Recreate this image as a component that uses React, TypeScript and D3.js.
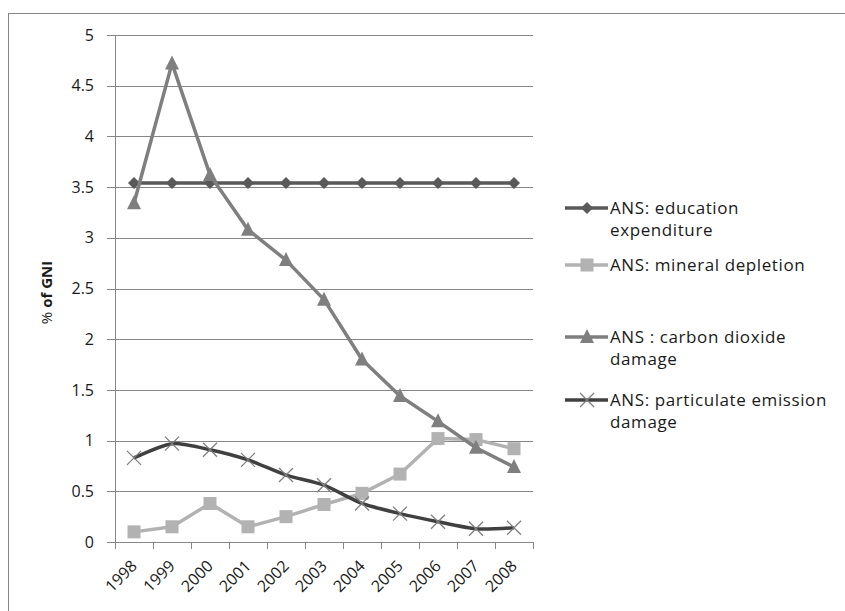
import * as d3 from "d3";

const years = ["1998", "1999", "2000", "2001", "2002", "2003", "2004", "2005", "2006", "2007", "2008"];
const education = [3.54, 3.54, 3.54, 3.54, 3.54, 3.54, 3.54, 3.54, 3.54, 3.54, 3.54];
const mineral = [0.1, 0.15, 0.38, 0.15, 0.25, 0.37, 0.48, 0.67, 1.02, 1.01, 0.92];
const carbon = [3.34, 4.72, 3.62, 3.08, 2.78, 2.39, 1.8, 1.44, 1.19, 0.93, 0.74];
const particulate = [0.83, 0.97, 0.91, 0.81, 0.66, 0.56, 0.38, 0.28, 0.2, 0.13, 0.14];
const yTicks = [0, 0.5, 1, 1.5, 2, 2.5, 3, 3.5, 4, 4.5, 5];

const FONT = "'Open Sans', 'Liberation Sans', sans-serif";

const margin = { left: 115, right: 533, top: 35, bottom: 542 };

type Series = {
  name: string[];
  values: number[];
  color: string;
  marker: "diamond" | "square" | "triangle" | "x";
  smooth?: boolean;
  legendY: number;
};

const series: Series[] = [
  { name: ["ANS: education", "expenditure"], values: education, color: "#595959", marker: "diamond", legendY: 208 },
  { name: ["ANS: mineral depletion"], values: mineral, color: "#b2b2b2", marker: "square", legendY: 265 },
  { name: ["ANS : carbon dioxide", "damage"], values: carbon, color: "#7f7f7f", marker: "triangle", legendY: 337 },
  { name: ["ANS: particulate emission", "damage"], values: particulate, color: "#404040", marker: "x", smooth: true, legendY: 400 },
];

function Marker({ type, x, y, color }: { type: string; x: number; y: number; color: string }) {
  if (type === "diamond") {
    const s = 6;
    return <path d={`M${x},${y - s}L${x + s},${y}L${x},${y + s}L${x - s},${y}Z`} fill={color} />;
  }
  if (type === "square") {
    const s = 6.5;
    return <rect x={x - s} y={y - s} width={s * 2} height={s * 2} fill={color} />;
  }
  if (type === "triangle") {
    const s = 7;
    return <path d={`M${x},${y - s - 1}L${x + s},${y + s - 1}L${x - s},${y + s - 1}Z`} fill={color} />;
  }
  const s = 7;
  return (
    <path
      d={`M${x - s},${y - s}L${x + s},${y + s}M${x - s},${y + s}L${x + s},${y - s}`}
      stroke="#7f7f7f"
      strokeWidth={1.3}
      fill="none"
    />
  );
}

export default function App() {
  const x = d3.scaleBand().domain(years).range([margin.left, margin.right]);
  const y = d3.scaleLinear().domain([0, 5]).range([margin.bottom, margin.top]);
  const cx = (d: string) => (x(d) as number) + x.bandwidth() / 2;

  const boundaries = years.map((d) => x(d) as number).concat([margin.right]);

  return (
    <svg
      width={845}
      height={611}
      style={{ position: "absolute", left: 0, top: 0, background: "#fff" }}
      fontFamily={FONT}
    >
      <rect x={8.5} y={13.5} width={900} height={700} fill="#fff" stroke="#868686" strokeWidth={1} />

      {/* grid + y axis */}
      {yTicks.map((t) => (
        <g key={t}>
          <line x1={margin.left - 8} x2={margin.right} y1={Math.round(y(t)) + 0.5} y2={Math.round(y(t)) + 0.5} stroke="#868686" strokeWidth={1} />
          <text x={94} y={y(t)} dy="0.35em" textAnchor="end" fontSize={16} fill="#1a1a1a">
            {t}
          </text>
        </g>
      ))}
      <line x1={margin.left + 0.5} x2={margin.left + 0.5} y1={margin.top} y2={margin.bottom} stroke="#868686" />

      {/* x axis ticks */}
      {boundaries.map((b, i) => (
        <line key={i} x1={Math.round(b) + 0.5} x2={Math.round(b) + 0.5} y1={margin.bottom} y2={margin.bottom + 7} stroke="#868686" />
      ))}
      {years.map((d) => (
        <text
          key={d}
          transform={`translate(${cx(d) + 4},${margin.bottom + 25}) rotate(-45)`}
          textAnchor="end"
          fontSize={16}
          fill="#1a1a1a"
        >
          {d}
        </text>
      ))}

      {/* y label */}
      <text transform={`translate(52,${(margin.top + margin.bottom) / 2 + 4}) rotate(-90)`} textAnchor="middle" fontSize={15} fill="#1a1a1a">
        <tspan>% </tspan>
        <tspan fontWeight="bold">of GNI</tspan>
      </text>

      {/* series */}
      {series.map((s) => {
        const line = d3
          .line<number>()
          .x((_, i) => cx(years[i]))
          .y((v) => y(v))
          .curve(s.smooth ? d3.curveCardinal.tension(0.3) : d3.curveLinear);
        return (
          <g key={s.name[0]}>
            <path d={line(s.values) || ""} fill="none" stroke={s.color} strokeWidth={3.5} strokeLinejoin="round" />
            {s.values.map((v, i) => (
              <Marker key={i} type={s.marker} x={cx(years[i])} y={y(v)} color={s.color} />
            ))}
          </g>
        );
      })}

      {/* legend */}
      {series.map((s) => (
        <g key={"lg" + s.name[0]}>
          <line x1={565} x2={608} y1={s.legendY} y2={s.legendY} stroke={s.color} strokeWidth={3.5} />
          <Marker type={s.marker} x={587} y={s.legendY} color={s.color} />
          {s.name.map((n, k) => (
            <text key={k} x={610} y={s.legendY + k * 22} dy="0.35em" fontSize={17} letterSpacing={0.6} fill="#1a1a1a">
              {n}
            </text>
          ))}
        </g>
      ))}
    </svg>
  );
}
